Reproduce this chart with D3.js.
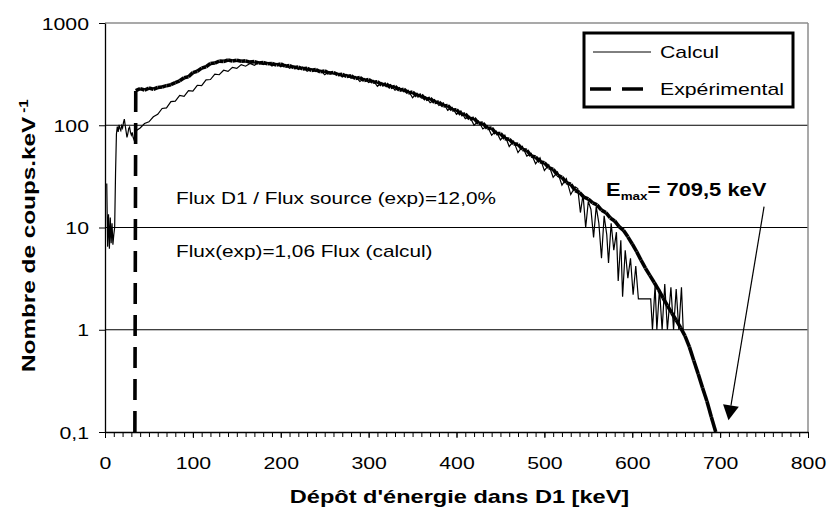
<!DOCTYPE html>
<html>
<head>
<meta charset="utf-8">
<script src="https://cdn.jsdelivr.net/npm/d3@7"></script>
<style>
  html, body { margin: 0; padding: 0; background: #fff; }
  svg { display: block; font-family: "Liberation Sans", Arial, sans-serif; }
</style>
</head>
<body>
<svg id="chart" width="829" height="511"></svg>
<script>
// ---- Spectrum data (energy in keV, counts per keV) ----
const expE = [34, 35, 40, 45, 50, 55, 60, 65, 70, 75, 80, 85, 90, 95, 100, 105, 110, 115, 120, 125, 130,
  135, 140, 145, 150, 155, 160, 165, 170, 175, 180, 185, 190, 195, 200, 205, 210, 215, 220, 225, 230,
  235, 240, 245, 250, 255, 260, 265, 270, 275, 280, 285, 290, 295, 300, 305, 310, 315, 320, 325, 330,
  335, 340, 345, 350, 355, 360, 365, 370, 375, 380, 385, 390, 395, 400, 405, 410, 415, 420, 425, 430,
  435, 440, 445, 450, 455, 460, 465, 470, 475, 480, 485, 490, 495, 500, 505, 510, 515, 520, 525, 530,
  535, 540, 545, 550, 555, 560, 565, 570, 575, 580, 585, 590, 595, 600, 605, 610, 615, 620, 625, 630,
  635, 640, 645, 650, 655, 660, 665, 670, 675, 680, 685, 690, 695];
const expY = [0.1, 218, 228, 221, 231, 225, 234, 237, 244, 249, 261, 272, 292, 298, 327, 338, 362, 374, 401, 406, 424,
  421, 434, 424, 433, 423, 426, 414, 419, 406, 410, 399, 402, 388, 398, 378, 383, 366, 370, 356, 360,
  344, 350, 333, 340, 322, 328, 312, 315, 300, 305, 287, 293, 274, 280, 263, 266, 248, 253, 234, 240,
  220, 225, 207, 211, 193, 198, 179, 184, 167, 169, 154, 156, 141, 142, 127, 129, 115, 117, 104, 105,
  93, 94, 83, 83, 74, 73, 66, 65, 58, 57, 50, 49, 44, 43, 38.5, 37, 32.5, 31, 27.5, 26.5,
  23, 22, 19.8, 19, 17.4, 16.6, 14.8, 14, 12.4, 11.6, 10.2, 9.4, 8.1, 6.9, 5.8, 4.8, 4.0, 3.4, 2.9, 2.45,
  2.05, 1.72, 1.46, 1.24, 1.05, 0.87, 0.68, 0.5, 0.37, 0.27, 0.2, 0.14, 0.1];

const calcE = [2, 3, 4, 5, 6, 7, 8, 9, 10, 11, 12, 13, 14, 15, 16, 17, 18, 19, 20, 21, 22, 23, 24, 25, 26,
  27, 28, 29, 30, 31, 32, 33, 34,
  35, 40, 45, 50, 55, 60, 65, 70, 75, 80, 85, 90, 95, 100, 105, 110, 115, 120, 125, 130,
  135, 140, 145, 150, 155, 160, 165, 170, 175, 180, 185, 190, 195, 200, 205, 210, 215, 220, 225, 230,
  235, 240, 245, 250, 255, 260, 265, 270, 275, 280, 285, 290, 295, 300, 305, 310, 315, 320, 325, 330,
  335, 340, 345, 350, 355, 360, 365, 370, 375, 380, 385, 390, 395, 400, 405, 410, 415, 420, 425, 430,
  435, 440, 445, 450, 455, 460, 465, 470, 475, 480, 485, 490, 495, 500, 505, 510, 515, 520, 525, 530,
  535, 538, 541, 544, 547, 550, 553, 556, 559, 562, 565, 568, 571, 573, 576, 579, 582, 584, 587, 589,
  592, 595, 598, 601, 604, 607, 612, 617, 621, 623, 626, 628, 631, 634, 637, 640, 644, 647, 650, 653,
  656, 658];
const calcY = [27, 6.5, 13.5, 6.2, 12.5, 7, 11, 6.8, 8.5, 10, 34, 82, 97, 86, 101, 93, 89, 99, 94, 106, 115, 99, 87, 76, 83,
  93, 96, 85, 80, 85, 76, 72, 81,
  88, 94, 104, 108, 121, 128, 146, 148, 170, 172, 196, 192, 218, 216, 246, 244, 278, 280, 316, 312,
  345, 336, 368, 360, 392, 378, 402, 386, 412, 392, 410, 380, 402, 372, 392, 360, 380, 350, 372, 338,
  356, 334, 346, 312, 334, 318, 322, 296, 314, 288, 300, 268, 286, 262, 276, 240, 262, 238, 250, 220,
  234, 212, 220, 186, 206, 184, 190, 166, 178, 156, 166, 140, 150, 128, 138, 116, 122, 100, 110, 92,
  99, 80, 88, 72, 80, 62, 70, 54, 62, 50, 53, 42, 48, 36, 41, 31, 35, 26, 30, 21,
  25, 24, 14, 21, 10, 18, 15, 8, 16, 11, 5, 13, 8.5, 4.5, 11, 6, 9, 3, 7.5, 2.1,
  6, 3.2, 5, 2.2, 4.2, 2, 2, 2, 2, 1, 2.7, 1, 2.5, 1, 2.8, 1, 2.6, 1, 2.5, 1,
  2.6, 1];

const xTicks = [0, 100, 200, 300, 400, 500, 600, 700, 800];
const xMinorTicks = [0, 10, 20, 30, 40, 50, 60, 70, 80, 90, 100, 110, 120, 130, 140, 150, 160, 170, 180, 190,
  200, 210, 220, 230, 240, 250, 260, 270, 280, 290, 300, 310, 320, 330, 340, 350, 360, 370, 380, 390,
  400, 410, 420, 430, 440, 450, 460, 470, 480, 490, 500, 510, 520, 530, 540, 550, 560, 570, 580, 590,
  600, 610, 620, 630, 640, 650, 660, 670, 680, 690, 700, 710, 720, 730, 740, 750, 760, 770, 780, 790, 800];
const yTicks = [0.1, 1, 10, 100, 1000];
const yTickLabels = ["0,1", "1", "10", "100", "1000"];
const yGrid = [1, 10, 100];

const seriesNames = ["Calcul", "Expérimental"];
const noteLines = ["Flux D1 / Flux source (exp)=12,0%", "Flux(exp)=1,06 Flux (calcul)"];
const emaxKeV = 709.5;
const emaxArrowTipY = 0.13;
const emaxArrowStart = [750, 16];

// ---- Layout ----
const svg = d3.select("#chart");
const plotL = 105, plotR = 808, plotT = 23, plotB = 432;

const x = d3.scaleLinear().domain([0, 800]).range([plotL, plotR]);
const y = d3.scaleLog().domain([0.1, 1000]).range([plotB, plotT]);

// Widen text along its own direction (the chart's font runs wide)
function stretch(sel, k) {
  sel.each(function () {
    const w = this.getComputedTextLength();
    this.setAttribute("textLength", w * k);
    this.setAttribute("lengthAdjust", "spacingAndGlyphs");
  });
}

svg.append("defs").append("clipPath").attr("id", "plotClip")
  .append("rect").attr("x", plotL).attr("y", plotT - 3).attr("width", plotR - plotL).attr("height", plotB - plotT + 4);

// Horizontal grid lines
svg.append("g").selectAll("line").data(yGrid).join("line")
  .attr("x1", plotL).attr("x2", plotR)
  .attr("y1", d => y(d)).attr("y2", d => y(d))
  .attr("stroke", "#000").attr("stroke-width", 1);

// Plot-area frame (top and right)
svg.append("line").attr("x1", plotL).attr("x2", plotR).attr("y1", plotT).attr("y2", plotT)
  .attr("stroke", "#8c8c8c").attr("stroke-width", 1.5);
svg.append("line").attr("x1", plotR).attr("x2", plotR).attr("y1", plotT).attr("y2", plotB)
  .attr("stroke", "#8c8c8c").attr("stroke-width", 1.5);

// ---- Curves ----
const plot = svg.append("g").attr("clip-path", "url(#plotClip)");

const calcPts = calcE.map((e, i) => [e, calcY[i]]);
plot.append("path")
  .attr("d", d3.line().x(d => x(d[0])).y(d => y(d[1]))(calcPts))
  .attr("fill", "none").attr("stroke", "#000").attr("stroke-width", 1.2)
  .attr("stroke-linejoin", "miter");

// Experimental: dashed pattern restarts on each segment, as in the spreadsheet renderer
const expSegs = expE.slice(1).map((e, i) => [[expE[i], expY[i]], [e, expY[i + 1]]]);
plot.append("g").selectAll("line").data(expSegs).join("line")
  .attr("x1", d => x(d[0][0])).attr("y1", d => y(d[0][1]))
  .attr("x2", d => x(d[1][0])).attr("y2", d => y(d[1][1]))
  .attr("stroke", "#000").attr("stroke-width", 3.6)
  .attr("stroke-dasharray", "21,11").attr("stroke-linecap", "butt");

// ---- Axes ----
const yAxis = svg.append("g").attr("transform", `translate(${plotL},0)`)
  .call(d3.axisLeft(y).tickValues(yTicks).tickFormat((d, i) => yTickLabels[i])
    .tickSize(6).tickSizeOuter(0).tickPadding(10));
yAxis.select(".domain").attr("stroke-width", 1.3);
yAxis.selectAll("text").attr("font-size", 17).attr("fill", "#000")
  .attr("font-family", "Liberation Sans, Arial, sans-serif").attr("dy", "0.36em");
stretch(yAxis.selectAll("text"), 1.25);

const xMinor = svg.append("g").attr("transform", `translate(0,${plotB})`)
  .call(d3.axisBottom(x).tickValues(xMinorTicks).tickFormat("").tickSize(5).tickSizeOuter(0));
xMinor.select(".domain").attr("stroke-width", 1.3);

const xAxis = svg.append("g").attr("transform", `translate(0,${plotB})`)
  .call(d3.axisBottom(x).tickValues(xTicks).tickSize(6).tickSizeOuter(0));
xAxis.select(".domain").remove();
xAxis.selectAll("text").attr("font-size", 17).attr("fill", "#000")
  .attr("font-family", "Liberation Sans, Arial, sans-serif")
  .attr("y", 37).attr("dy", 0);
stretch(xAxis.selectAll("text"), 1.25);

// Axis titles
const xTitle = svg.append("text")
  .attr("x", (plotL + plotR) / 2 + 3).attr("y", 503)
  .attr("text-anchor", "middle").attr("font-size", 19).attr("font-weight", "bold")
  .text("Dépôt d'énergie dans D1 [keV]");
stretch(xTitle, 1.24);

const yTitle = svg.append("g").attr("transform", "translate(35,372) rotate(-90) scale(1.28,1)")
  .append("text").attr("font-size", 19).attr("font-weight", "bold");
yTitle.append("tspan").text("Nombre de coups.keV");
yTitle.append("tspan").attr("dx", 3).attr("dy", -7).attr("font-size", 12).text("-1");

// ---- Legend ----
const lg = svg.append("g");
lg.append("rect").attr("x", 584).attr("y", 33).attr("width", 209).attr("height", 74)
  .attr("fill", "#fff").attr("stroke", "#000").attr("stroke-width", 3);
lg.append("line").attr("x1", 593).attr("x2", 651).attr("y1", 52).attr("y2", 52)
  .attr("stroke", "#000").attr("stroke-width", 1);
lg.append("line").attr("x1", 590).attr("x2", 652).attr("y1", 89).attr("y2", 89)
  .attr("stroke", "#000").attr("stroke-width", 3.6).attr("stroke-dasharray", "21,11");
const lgText = lg.selectAll("text.lg").data(seriesNames).join("text").attr("class", "lg")
  .attr("x", 660).attr("y", (d, i) => 58 + i * 37)
  .attr("font-size", 17).text(d => d);
stretch(lgText, 1.25);

// ---- Annotations ----
const notes = svg.selectAll("text.note").data(noteLines).join("text").attr("class", "note")
  .attr("x", 176).attr("y", (d, i) => 204 + i * 53)
  .attr("font-size", 17).text(d => d);
stretch(notes, 1.22);

const emax = svg.append("g").attr("transform", "translate(606,196) scale(1.22,1)")
  .append("text").attr("font-size", 18).attr("font-weight", "bold");
emax.append("tspan").text("E");
emax.append("tspan").attr("font-size", 11).attr("dy", 4).text("max");
emax.append("tspan").attr("dy", -4).text("= " + d3.format(".1f")(emaxKeV).replace(".", ",") + " keV");

// Arrow pointing to the end-point energy
const p0 = [x(emaxArrowStart[0]), y(emaxArrowStart[1])];
const p1 = [x(emaxKeV), y(emaxArrowTipY)];
const ddx = p1[0] - p0[0], ddy = p1[1] - p0[1];
const len = Math.hypot(ddx, ddy);
const ux = ddx / len, uy = ddy / len;
const headL = 15, headW = 8;
const base = [p1[0] - ux * headL, p1[1] - uy * headL];
svg.append("line").attr("x1", p0[0]).attr("y1", p0[1]).attr("x2", base[0]).attr("y2", base[1])
  .attr("stroke", "#000").attr("stroke-width", 1.2);
svg.append("path")
  .attr("d", d3.line()([
    p1,
    [base[0] - uy * headW, base[1] + ux * headW],
    [base[0] + uy * headW, base[1] - ux * headW]
  ]) + "Z")
  .attr("fill", "#000");
</script>
</body>
</html>
